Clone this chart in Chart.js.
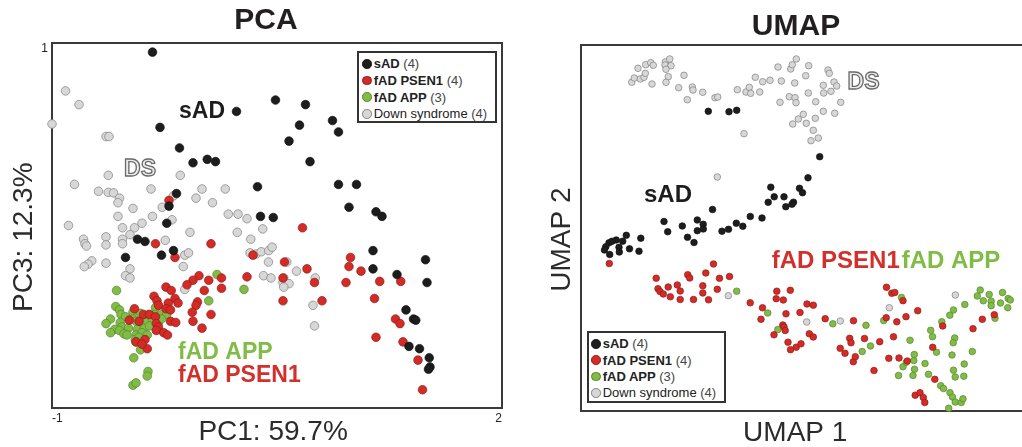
<!DOCTYPE html>
<html>
<head>
<meta charset="utf-8">
<script src="https://cdn.jsdelivr.net/npm/chart.js@4.4.1/dist/chart.umd.min.js"></script>
<style>
  html, body { margin: 0; padding: 0; background: #fff; overflow: hidden; }
  #wrap { position: relative; width: 1022px; height: 447px; overflow: hidden; }
  canvas { position: absolute; top: 0; }
  .legend {
    position: absolute; box-sizing: border-box; border: 2px solid #333; background: #fff;
    font: 13px "Liberation Sans", Arial, sans-serif; color: #222;
  }
  .legend .row { display: flex; align-items: center; white-space: nowrap; }
  .legend .dot { width: 9.5px; height: 9.5px; border-radius: 50%; box-sizing: border-box; border: 0.8px solid; margin-right: 2px; }
  .legend .n { color: #444; }
</style>
</head>
<body>
<div id="wrap">
  <canvas id="pca" width="532" height="447" style="left:0px"></canvas>
  <canvas id="umap" width="512" height="447" style="left:540px"></canvas>
</div>
<script>
const FONT = '"Liberation Sans", Arial, Helvetica, sans-serif';
Chart.defaults.font.family = FONT;

// groups (legend order)
const groupNames = ["sAD", "fAD PSEN1", "fAD APP", "Down syndrome"];
const groupCounts = [4, 4, 3, 4];
const groupFill = ["#1d1d1d", "#d42b27", "#80bc46", "#d7d7d7"];
const groupEdge = ["#111111", "#8e1d1a", "#56852f", "#808080"];

// PCA: PC1 (x) vs PC3 (y)
const pcaXTicks = [-1, 2];
const pcaYTicks = [1, -0.6];
const pcaSad = [[-0.33,0.96],[0.23,0.70],[-0.28,0.63],[0.49,0.75],[0.69,0.73],[0.65,0.64],[0.87,0.66],[0.91,0.61],[0.58,0.57],[-0.15,0.54],[-0.06,0.475],[0.035,0.49],[0.09,0.48],[0.72,0.48],[0.37,0.37],[0.91,0.38],[1.03,0.38],[-0.17,0.34],[-0.22,0.285],[0.98,0.28],[1.16,0.26],[1.20,0.24],[0.39,0.24],[0.475,0.235],[-0.235,0.21],[-0.43,0.14],[-0.38,0.13],[-0.19,0.09],[-0.27,0.07],[-0.51,0.06],[1.14,0.09],[1.14,0.01],[1.49,0.05],[1.30,-0.015],[1.50,-0.05],[1.36,-0.17],[1.41,-0.21],[1.425,-0.215],[1.38,-0.33],[1.45,-0.34],[1.515,-0.38],[1.52,-0.42],[1.51,-0.43]];
const pcaPsen1 = [[-0.22,0.31],[-0.31,0.12],[0.06,0.12],[-0.18,0.06],[0.34,0.07],[0.55,0.04],[0.67,0.19],[0.70,0.01],[-0.02,-0.02],[-0.06,-0.04],[0.045,-0.04],[0.13,-0.03],[0.30,-0.025],[0.54,-0.03],[-0.10,-0.06],[-0.24,-0.07],[-0.205,-0.085],[0.015,-0.085],[0.13,-0.075],[-0.32,-0.11],[-0.30,-0.13],[-0.18,-0.12],[-0.16,-0.14],[-0.225,-0.14],[-0.29,-0.15],[-0.03,-0.135],[-0.04,-0.15],[-0.065,-0.18],[0.06,-0.19],[-0.06,-0.22],[0.00,-0.25],[0.54,-0.13],[0.75,-0.05],[0.80,-0.13],[0.99,0.06],[0.98,0.02],[1.06,0.00],[0.96,-0.05],[1.185,-0.045],[1.325,-0.045],[1.15,-0.12],[1.29,-0.21],[1.32,-0.23],[1.16,-0.29],[1.34,-0.31],[1.44,-0.39],[1.47,-0.52],[-0.45,-0.165],[-0.39,-0.19],[-0.35,-0.19],[-0.485,-0.215],[-0.42,-0.22],[-0.31,-0.20],[-0.24,-0.165],[-0.305,-0.23],[-0.29,-0.245],[-0.305,-0.26],[-0.255,-0.27],[-0.23,-0.28],[-0.21,-0.22],[-0.175,-0.225],[-0.44,-0.31],[-0.38,-0.30],[-0.365,-0.34],[-0.40,-0.32],[-0.21,-0.17]];
const pcaApp = [[-0.57,-0.085],[0.10,-0.015],[0.28,-0.08],[0.045,-0.13],[-0.575,-0.155],[-0.55,-0.17],[-0.46,-0.18],[-0.54,-0.19],[-0.51,-0.20],[-0.41,-0.185],[-0.355,-0.19],[-0.31,-0.16],[-0.315,-0.19],[-0.27,-0.19],[-0.235,-0.19],[-0.61,-0.21],[-0.64,-0.23],[-0.545,-0.225],[-0.535,-0.245],[-0.46,-0.21],[-0.44,-0.22],[-0.41,-0.22],[-0.375,-0.225],[-0.33,-0.21],[-0.29,-0.225],[-0.27,-0.21],[-0.49,-0.25],[-0.58,-0.255],[-0.55,-0.26],[-0.61,-0.27],[-0.52,-0.275],[-0.43,-0.255],[-0.385,-0.25],[-0.35,-0.24],[-0.50,-0.28],[-0.44,-0.28],[-0.40,-0.27],[-0.365,-0.28],[-0.445,-0.30],[-0.42,-0.29],[-0.44,-0.31],[-0.41,-0.345],[-0.455,-0.38],[-0.36,-0.44],[-0.365,-0.46],[-0.46,-0.50],[-0.44,-0.49]];
const pcaDs = [[-0.91,0.79],[-0.82,0.73],[-1.00,0.645],[-0.64,0.59],[-0.62,0.59],[-0.625,0.42],[-0.145,0.42],[-0.85,0.38],[-0.69,0.35],[-0.625,0.345],[-0.59,0.343],[-0.34,0.36],[-0.55,0.32],[-0.56,0.30],[-0.19,0.33],[0.00,0.36],[0.155,0.36],[-0.04,0.32],[0.07,0.30],[-0.46,0.275],[-0.265,0.28],[0.175,0.25],[0.24,0.25],[-0.56,0.24],[-0.33,0.24],[-0.20,0.225],[0.30,0.23],[-0.89,0.20],[-0.40,0.21],[-0.53,0.19],[-0.45,0.19],[-0.48,0.16],[-0.08,0.17],[0.235,0.17],[0.405,0.185],[-0.79,0.14],[-0.78,0.12],[-0.77,0.11],[-0.64,0.15],[-0.64,0.115],[-0.53,0.14],[-0.53,0.12],[-0.245,0.135],[0.325,0.14],[-0.115,0.07],[-0.09,0.08],[-0.735,0.045],[-0.76,0.03],[-0.785,0.02],[-0.64,0.035],[-0.48,0.01],[-0.125,0.02],[0.32,0.08],[0.36,0.075],[0.395,0.085],[0.445,0.09],[0.467,0.105],[0.443,0.04],[0.565,0.04],[0.63,0.00],[-0.51,-0.02],[-0.48,-0.03],[0.41,-0.02],[0.46,-0.03],[0.545,-0.03],[0.54,-0.05],[0.58,-0.055],[0.545,-0.07],[-0.115,-0.08],[0.755,-0.03],[0.74,-0.15],[0.75,-0.24]];

// UMAP (arbitrary units, no ticks shown)
const umapSad = [[12.73,29.97],[14.8,29.93],[15.57,30.07],[23.87,25.43],[22.7,23.32],[21.85,22.27],[22.15,21.83],[18.98,22.38],[19.32,21.42],[18.72,20.87],[20.3,21.42],[21.25,20.88],[21.1,20.68],[20.48,20.43],[18.1,19.3],[16.93,19.45],[16.18,18.47],[15.53,18.78],[14.75,18.17],[14.1,17.98],[13.15,20.15],[11.63,19.1],[11.63,18.03],[12.22,18.67],[12.23,18.2],[11.3,16.85],[10.65,17.37],[10.13,18.5],[8.67,17.93],[8.3,18.95],[5.98,17.28],[5.8,15.98],[4.85,16.22],[4.53,17.57],[4.17,16.98],[3.8,16.37],[3.83,15.9],[3.52,17.1],[2.8,16.82],[2.48,16.43],[2.35,16.1],[2.87,15.65],[3.1,16.97]];
const umapPsen1 = [[2.83,14.75],[13.25,14.7],[7.52,13.28],[7.7,12.23],[7.9,11.95],[8.23,11.7],[8.72,12.4],[8.93,11.42],[9.63,12.6],[9.92,12.0],[9.92,11.15],[10.67,13.63],[10.87,13.3],[11.25,11.15],[12.18,12.52],[12.18,11.8],[12.48,13.8],[12.75,11.12],[13.63,12.17],[13.85,13.27],[14.85,13.45],[16.92,10.82],[18.15,10.32],[18.0,9.17],[19.58,11.98],[20.93,12.07],[19.52,11.23],[20.23,11.1],[20.5,9.72],[20.18,8.6],[20.3,8.4],[20.42,8.05],[19.3,7.62],[20.7,6.88],[20.95,6.13],[21.52,6.38],[22.0,6.72],[21.9,9.85],[22.6,10.7],[23.23,10.58],[22.83,7.72],[23.23,7.4],[24.42,9.23],[25.92,6.27],[26.4,5.77],[26.87,7.27],[27.0,6.83],[27.23,4.93],[27.43,5.43],[27.25,9.03],[28.35,7.25],[29.3,4.05],[29.87,6.93],[30.55,12.37],[31.08,11.77],[31.38,11.85],[32.2,11.03],[30.52,9.33],[31.58,8.92],[32.5,9.43],[33.67,10.03],[31.25,7.42],[30.78,5.27],[31.8,5.3],[32.63,5.0],[33.42,1.58],[33.9,1.83],[34.23,1.35],[34.38,0.85],[35.38,3.17],[35.17,6.37],[36.17,8.5],[39.2,8.23],[40.13,9.17],[41.33,9.63]];
const umapApp = [[15.57,11.98],[18.67,9.8],[19.68,8.15],[25.18,8.72],[28.5,8.57],[30.27,9.05],[32.05,11.35],[28.95,6.5],[28.12,5.95],[32.9,7.07],[32.2,4.42],[32.53,4.87],[33.28,5.05],[33.33,5.65],[31.75,3.55],[33.35,4.17],[33.2,3.55],[34.4,4.75],[34.75,3.67],[35.97,2.53],[36.25,2.25],[36.9,1.83],[37.15,1.4],[37.42,0.9],[38.03,0.85],[38.2,1.22],[36.77,0.27],[34.97,8.07],[35.15,7.43],[35.55,5.88],[36.08,8.93],[36.88,9.58],[37.25,10.1],[38.38,10.65],[37.37,7.3],[37.22,6.82],[37.1,5.6],[37.25,4.08],[37.42,3.4],[38.32,4.7],[38.28,3.48],[39.13,5.95],[39.63,11.5],[39.92,12.1],[40.23,11.02],[40.82,11.65],[41.02,10.98],[41.02,10.53],[41.95,10.8],[42.15,11.85],[42.72,11.25],[42.93,11.1],[42.67,10.33],[41.4,9.27]];
const umapDs = [[5.07,32.87],[5.33,33.3],[5.7,34.27],[5.93,33.2],[6.3,33.37],[6.43,33.77],[6.47,34.63],[6.97,34.83],[7.23,34.57],[7.1,32.7],[8.43,34.9],[8.4,34.6],[8.87,35.2],[9.0,34.53],[8.73,33.43],[8.5,32.87],[8.5,34.17],[10.3,33.57],[9.77,32.33],[11.13,32.4],[11.2,32.1],[10.63,31.13],[12.17,31.87],[13.4,31.33],[13.67,31.4],[15.63,32.13],[16.5,31.9],[16.83,32.37],[16.97,31.77],[17.87,31.9],[17.43,33.37],[18.17,32.93],[18.9,33.07],[19.7,34.4],[20.03,33.0],[20.97,34.2],[21.13,34.63],[21.53,35.2],[21.37,32.8],[22.47,33.53],[22.77,34.53],[19.9,30.87],[20.83,31.43],[21.4,31.33],[21.5,30.83],[22.73,31.8],[23.47,30.93],[24.23,32.57],[24.27,31.8],[24.7,34.1],[24.83,33.77],[25.0,31.97],[25.3,32.9],[25.57,32.5],[25.97,30.87],[24.23,29.97],[25.37,29.77],[22.23,29.67],[21.73,29.2],[21.17,28.7],[22.53,28.77],[23.43,29.27],[23.23,28.07],[23.0,27.03],[23.73,27.3],[16.3,27.73],[13.63,23.4],[14.73,11.53],[22.57,8.9],[25.93,9.0],[30.83,10.33],[37.43,11.6]];

function toPoints(arr) {
  return arr.map((p) => ({ x: p[0], y: p[1] }));
}

function makeDatasets(groups, radius) {
  return groups.map((g, i) => ({
    label: groupNames[i],
    data: toPoints(g),
    pointRadius: radius,
    pointBorderWidth: 0.7,
    pointBackgroundColor: groupFill[i],
    pointBorderColor: groupEdge[i],
    showLine: false,
    clip: false,
  }));
}

// box around the plot area
const framePlugin = {
  id: "frame",
  beforeDatasetsDraw(chart) {
    const { ctx, chartArea: a } = chart;
    ctx.save();
    ctx.strokeStyle = "#3a3a3a";
    ctx.lineWidth = 2;
    ctx.strokeRect(a.left, a.top, a.right - a.left, a.bottom - a.top);
    ctx.restore();
  },
};

// group names written next to the clusters
const groupLabelsPlugin = {
  id: "groupLabels",
  afterDatasetsDraw(chart, args, opts) {
    const { ctx, scales } = chart;
    (opts.items || []).forEach((it) => {
      const px = scales.x.getPixelForValue(it.x);
      const py = scales.y.getPixelForValue(it.y);
      ctx.save();
      ctx.font = `bold ${it.size}px ${FONT}`;
      ctx.textAlign = it.align || "center";
      ctx.textBaseline = "middle";
      if (it.outline) {
        ctx.fillStyle = "#ececec";
        ctx.fillText(it.text, px, py);
        ctx.lineWidth = 1.3;
        ctx.strokeStyle = "#6a6a6a";
        ctx.strokeText(it.text, px, py);
      } else {
        ctx.fillStyle = it.color;
        ctx.fillText(it.text, px, py);
      }
      ctx.restore();
    });
  },
};

function buildLegend(chart, box) {
  const el = document.createElement("div");
  el.className = "legend";
  Object.assign(el.style, box.style);
  chart.data.datasets.forEach((ds, i) => {
    const row = document.createElement("div");
    row.className = "row";
    row.style.height = box.rowH + "px";
    const dot = document.createElement("span");
    dot.className = "dot";
    dot.style.background = ds.pointBackgroundColor;
    dot.style.borderColor = ds.pointBorderColor;
    const name = document.createElement("span");
    name.textContent = ds.label;
    name.style.fontWeight = ds.label === "Down syndrome" ? "normal" : "bold";
    const n = document.createElement("span");
    n.className = "n";
    n.textContent = "\u00a0(" + groupCounts[i] + ")";
    row.append(dot, name, n);
    el.appendChild(row);
  });
  document.getElementById("wrap").appendChild(el);
}

function fixedWidth(w) {
  return (s) => { s.width = w; };
}

const NB = "\u00a0";

const pcaChart = new Chart(document.getElementById("pca"), {
  type: "scatter",
  data: { datasets: makeDatasets([pcaSad, pcaPsen1, pcaApp, pcaDs], 4.3) },
  options: {
    responsive: false,
    animation: false,
    events: [],
    layout: { padding: 0 },
    plugins: {
      legend: { display: false },
      tooltip: { enabled: false },
      title: {
        display: true, text: "PCA", color: "#231f20",
        font: { size: 30, weight: "bold" }, padding: { top: 3, bottom: 4 },
      },
      groupLabels: {
        items: [
          { text: "sAD", x: 0.0, y: 0.70, size: 23, color: "#1d1d1d" },
          { text: "DS", x: -0.413, y: 0.443, size: 23, outline: true },
          { text: "fAD APP", x: -0.16, y: -0.357, size: 23, color: "#80bc46", align: "left" },
          { text: "fAD PSEN1", x: -0.16, y: -0.458, size: 23, color: "#d2302a", align: "left" },
        ],
      },
    },
    scales: {
      x: {
        type: "linear", min: -1, max: 2,
        grid: { display: false, drawTicks: false }, border: { display: false },
        afterBuildTicks: (s) => { s.ticks = pcaXTicks.map((v) => ({ value: v })); },
        afterFit: (s) => { s.height = 39; },
        ticks: { align: "inner", padding: 3, color: "#222", font: { size: 12 } },
        title: { display: true, text: "PC1: 59.7%" + NB, color: "#2b2b2b", font: { size: 28, lineHeight: 1 }, padding: { top: 0, bottom: 1 } },
      },
      y: {
        type: "linear", min: -0.6, max: 1, weight: 1,
        grid: { display: false, drawTicks: false }, border: { display: false },
        afterBuildTicks: (s) => { s.ticks = [{ value: pcaYTicks[0] }]; },
        afterFit: fixedWidth(52),
        ticks: { align: "start", padding: 4, color: "#222", font: { size: 12 } },
        title: { display: true, text: "PC3: 12.3%" + NB + NB + NB, color: "#2b2b2b", font: { size: 28, lineHeight: 1 }, padding: { top: 10, bottom: 0 } },
      },
      y2: {
        type: "linear", position: "left", min: -0.6, max: 1, weight: 0,
        grid: { display: false, drawTicks: false }, border: { display: false },
        afterBuildTicks: (s) => { s.ticks = [{ value: pcaYTicks[1] }]; },
        afterFit: fixedWidth(0),
        ticks: { align: "end", padding: 4, color: "#222", font: { size: 12 } },
      },
      yRight: {
        type: "linear", position: "right", min: 0, max: 1,
        grid: { display: false }, border: { display: false }, ticks: { display: false },
        afterFit: fixedWidth(30),
      },
    },
  },
  plugins: [framePlugin, groupLabelsPlugin],
});

const umapChart = new Chart(document.getElementById("umap"), {
  type: "scatter",
  data: { datasets: makeDatasets([umapSad, umapPsen1, umapApp, umapDs], 3.3) },
  options: {
    responsive: false,
    animation: false,
    events: [],
    layout: { padding: 0 },
    plugins: {
      legend: { display: false },
      tooltip: { enabled: false },
      title: {
        display: true, text: "UMAP", color: "#231f20",
        font: { size: 30, weight: "bold" }, padding: { top: 8.5, bottom: 0.5 },
      },
      groupLabels: {
        items: [
          { text: "sAD", x: 8.7, y: 21.6, size: 24, color: "#1d1d1d" },
          { text: "DS", x: 28.25, y: 32.8, size: 23, outline: true },
          { text: "fAD PSEN1", x: 19.07, y: 14.95, size: 24, color: "#d2302a", align: "left" },
          { text: "fAD APP", x: 32.07, y: 14.95, size: 24, color: "#80bc46", align: "left" },
        ],
      },
    },
    scales: {
      x: {
        type: "linear", min: 0, max: 44.4,
        grid: { display: false }, border: { display: false }, ticks: { display: false },
        afterFit: (s) => { s.height = 36; },
        title: { display: true, text: "UMAP 1" + NB + NB, color: "#2b2b2b", font: { size: 28, lineHeight: 1 }, padding: { top: 0, bottom: 0 } },
      },
      y: {
        type: "linear", min: 0, max: 36.6,
        grid: { display: false }, border: { display: false }, ticks: { display: false },
        afterFit: fixedWidth(41),
        title: { display: true, text: "UMAP 2" + NB + NB + NB, color: "#2b2b2b", font: { size: 28, lineHeight: 1 }, padding: { top: 8.5, bottom: 0 } },
      },
      yRight: {
        type: "linear", position: "right", min: 0, max: 1,
        grid: { display: false }, border: { display: false }, ticks: { display: false },
        afterFit: fixedWidth(27),
      },
    },
  },
  plugins: [framePlugin, groupLabelsPlugin],
});

buildLegend(pcaChart, {
  rowH: 16.6,
  style: { left: "357px", top: "51px", width: "140px", height: "72px", padding: "2.7px 0 0 3.2px" },
});
buildLegend(umapChart, {
  rowH: 16.3,
  style: { left: "587px", top: "331px", width: "139px", height: "72px", padding: "2.8px 0 0 2.2px" },
});
</script>
</body>
</html>
